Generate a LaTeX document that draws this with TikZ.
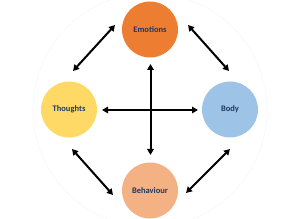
\documentclass[tikz,border=0pt]{standalone}
\usepackage{fontspec}
\setmainfont{Carlito}
\usetikzlibrary{arrows.meta}
\definecolor{emo}{HTML}{ED7D31}
\definecolor{tho}{HTML}{FFD966}
\definecolor{bod}{HTML}{9DC3E6}
\definecolor{beh}{HTML}{F4B183}
\definecolor{txt}{HTML}{1F3864}
\tikzset{
  bubble/.style={circle, minimum size=56pt, inner sep=0pt, font=\bfseries\fontsize{8.5}{9}\selectfont, text=txt},
  link/.style={line width=2pt, {Triangle[length=6pt,width=6.5pt]}-{Triangle[length=6pt,width=6.5pt]}},
}
\begin{document}
\begin{tikzpicture}[x=1pt,y=-1pt]
\useasboundingbox (0,0) rectangle (300,219);
\draw[black!3, line width=0.6pt] (150,110) circle (117);
\node[bubble, fill=emo] (E) at (150,29.5) {Emotions};
\node[bubble, fill=tho] (T) at (69,109.5) {Thoughts};
\node[bubble, fill=bod] (B) at (230,109.5) {Body};
\node[bubble, fill=beh] (H) at (150,190.5) {Behaviour};
\coordinate (te1) at (73,71);
\coordinate (te2) at (115,25);
\coordinate (eb1) at (188,25);
\coordinate (eb2) at (229,71);
\coordinate (th1) at (72,149);
\coordinate (th2) at (113,195);
\coordinate (hb1) at (186,193);
\coordinate (hb2) at (230,149);
\coordinate (hl) at (102,110);
\coordinate (hr) at (198,110);
\coordinate (vt) at (150.5,64);
\coordinate (vb) at (150.5,155);
\draw[link] (te1) -- (te2);
\draw[link] (eb1) -- (eb2);
\draw[link] (th1) -- (th2);
\draw[link] (hb1) -- (hb2);
\draw[link] (hl) -- (hr);
\draw[link] (vt) -- (vb);
\end{tikzpicture}
\end{document}
